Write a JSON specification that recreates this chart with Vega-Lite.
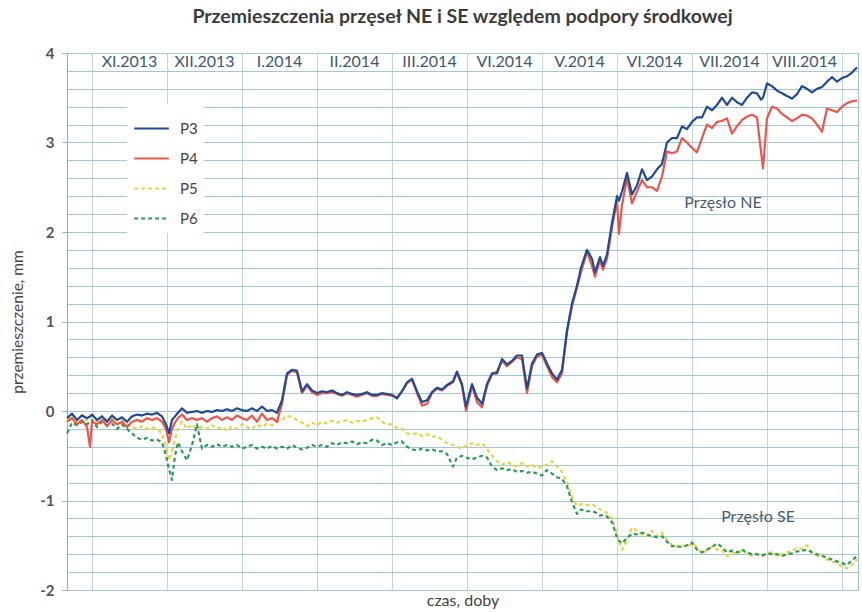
{
"$schema": "https://vega.github.io/schema/vega-lite/v6.json",
"width": 791, "height": 537,
"autosize": {"type": "none"},
"padding": {"left": 67, "top": 53, "right": 4, "bottom": 22},
"background": "white",
"title": {"text": "Przemieszczenia przęseł NE i SE  względem podpory środkowej", "fontSize": 19.5, "font": "Lato", "fontWeight": "bold", "color": "#3b3b3b", "anchor": "middle", "offset": 19},
"config": {"view": {"stroke": "#9dbfd4"}, "font": "Lato"},
"layer": [
{
"data": {"values": [
{"d":0,"P3":-0.08,"P4":-0.12,"P5":-0.1,"P6":-0.25},
{"d":2,"P3":-0.03,"P4":-0.08,"P5":-0.05,"P6":-0.13},
{"d":4,"P3":-0.1,"P4":-0.15,"P5":-0.12,"P6":-0.16},
{"d":6,"P3":-0.05,"P4":-0.1,"P5":-0.04,"P6":-0.12},
{"d":8,"P3":-0.08,"P4":-0.18,"P5":-0.1,"P6":-0.15},
{"d":9.2,"P3":-0.06,"P4":-0.4,"P5":-0.08,"P6":-0.12},
{"d":10,"P3":-0.04,"P4":-0.12,"P5":-0.06,"P6":-0.1},
{"d":12,"P3":-0.1,"P4":-0.15,"P5":-0.12,"P6":-0.18},
{"d":14,"P3":-0.06,"P4":-0.1,"P5":-0.05,"P6":-0.12},
{"d":16,"P3":-0.12,"P4":-0.17,"P5":-0.1,"P6":-0.16},
{"d":18,"P3":-0.05,"P4":-0.1,"P5":-0.08,"P6":-0.14},
{"d":20,"P3":-0.1,"P4":-0.15,"P5":-0.14,"P6":-0.2},
{"d":22,"P3":-0.07,"P4":-0.12,"P5":-0.1,"P6":-0.15},
{"d":24,"P3":-0.12,"P4":-0.18,"P5":-0.15,"P6":-0.2},
{"d":26,"P3":-0.06,"P4":-0.12,"P5":-0.18,"P6":-0.25},
{"d":28,"P3":-0.04,"P4":-0.1,"P5":-0.2,"P6":-0.3},
{"d":30,"P3":-0.05,"P4":-0.12,"P5":-0.17,"P6":-0.32},
{"d":32,"P3":-0.03,"P4":-0.08,"P5":-0.2,"P6":-0.3},
{"d":34,"P3":-0.04,"P4":-0.1,"P5":-0.18,"P6":-0.33},
{"d":36,"P3":-0.02,"P4":-0.08,"P5":-0.2,"P6":-0.32},
{"d":38,"P3":-0.06,"P4":-0.12,"P5":-0.25,"P6":-0.35},
{"d":39.6,"P3":-0.15,"P4":-0.2,"P5":-0.4,"P6":-0.5},
{"d":40.8,"P3":-0.25,"P4":-0.35,"P5":-0.55,"P6":-0.65},
{"d":42,"P3":-0.1,"P4":-0.2,"P5":-0.45,"P6":-0.77},
{"d":43.2,"P3":-0.06,"P4":-0.13,"P5":-0.32,"P6":-0.5},
{"d":44.4,"P3":-0.02,"P4":-0.08,"P5":-0.2,"P6":-0.35},
{"d":46,"P3":0.03,"P4":-0.04,"P5":-0.12,"P6":-0.45},
{"d":48,"P3":-0.02,"P4":-0.1,"P5":-0.2,"P6":-0.55},
{"d":50,"P3":-0.01,"P4":-0.08,"P5":-0.15,"P6":-0.38},
{"d":52,"P3":0.0,"P4":-0.1,"P5":-0.2,"P6":-0.15},
{"d":54,"P3":-0.02,"P4":-0.08,"P5":-0.18,"P6":-0.42},
{"d":56,"P3":0.0,"P4":-0.12,"P5":-0.2,"P6":-0.38},
{"d":58,"P3":-0.01,"P4":-0.08,"P5":-0.16,"P6":-0.4},
{"d":60,"P3":0.01,"P4":-0.06,"P5":-0.2,"P6":-0.37},
{"d":62,"P3":0.0,"P4":-0.1,"P5":-0.18,"P6":-0.4},
{"d":64,"P3":0.02,"P4":-0.07,"P5":-0.22,"P6":-0.38},
{"d":66,"P3":0.0,"P4":-0.1,"P5":-0.17,"P6":-0.4},
{"d":68,"P3":0.03,"P4":-0.05,"P5":-0.2,"P6":-0.38},
{"d":70,"P3":0.01,"P4":-0.08,"P5":-0.15,"P6":-0.42},
{"d":72,"P3":0.0,"P4":-0.1,"P5":-0.18,"P6":-0.4},
{"d":74,"P3":0.03,"P4":-0.05,"P5":-0.2,"P6":-0.38},
{"d":76,"P3":0.0,"P4":-0.12,"P5":-0.15,"P6":-0.42},
{"d":78,"P3":0.05,"P4":-0.03,"P5":-0.18,"P6":-0.4},
{"d":80,"P3":0.0,"P4":-0.1,"P5":-0.14,"P6":-0.42},
{"d":82,"P3":0.01,"P4":-0.08,"P5":-0.16,"P6":-0.39},
{"d":84,"P3":-0.02,"P4":-0.12,"P5":-0.12,"P6":-0.42},
{"d":86,"P3":0.12,"P4":0.08,"P5":-0.1,"P6":-0.4},
{"d":88,"P3":0.42,"P4":0.4,"P5":-0.05,"P6":-0.42},
{"d":90,"P3":0.46,"P4":0.45,"P5":-0.07,"P6":-0.38},
{"d":92,"P3":0.45,"P4":0.43,"P5":-0.1,"P6":-0.41},
{"d":94,"P3":0.22,"P4":0.2,"P5":-0.13,"P6":-0.43},
{"d":96,"P3":0.3,"P4":0.28,"P5":-0.17,"P6":-0.41},
{"d":98,"P3":0.23,"P4":0.21,"P5":-0.13,"P6":-0.38},
{"d":100,"P3":0.2,"P4":0.18,"P5":-0.16,"P6":-0.4},
{"d":102,"P3":0.22,"P4":0.2,"P5":-0.12,"P6":-0.38},
{"d":104,"P3":0.21,"P4":0.2,"P5":-0.14,"P6":-0.4},
{"d":106,"P3":0.23,"P4":0.21,"P5":-0.11,"P6":-0.36},
{"d":108,"P3":0.2,"P4":0.19,"P5":-0.13,"P6":-0.38},
{"d":110,"P3":0.18,"P4":0.17,"P5":-0.12,"P6":-0.35},
{"d":112,"P3":0.21,"P4":0.2,"P5":-0.1,"P6":-0.36},
{"d":114,"P3":0.19,"P4":0.18,"P5":-0.13,"P6":-0.34},
{"d":116,"P3":0.18,"P4":0.16,"P5":-0.11,"P6":-0.37},
{"d":118,"P3":0.19,"P4":0.18,"P5":-0.12,"P6":-0.35},
{"d":120,"P3":0.21,"P4":0.2,"P5":-0.1,"P6":-0.36},
{"d":122,"P3":0.18,"P4":0.17,"P5":-0.08,"P6":-0.32},
{"d":124,"P3":0.18,"P4":0.17,"P5":-0.07,"P6":-0.33},
{"d":126,"P3":0.2,"P4":0.19,"P5":-0.12,"P6":-0.38},
{"d":128,"P3":0.19,"P4":0.18,"P5":-0.15,"P6":-0.36},
{"d":130,"P3":0.18,"P4":0.17,"P5":-0.15,"P6":-0.38},
{"d":132,"P3":0.14,"P4":0.15,"P5":-0.19,"P6":-0.35},
{"d":134,"P3":0.22,"P4":0.22,"P5":-0.2,"P6":-0.34},
{"d":136,"P3":0.32,"P4":0.31,"P5":-0.25,"P6":-0.4},
{"d":138,"P3":0.36,"P4":0.35,"P5":-0.26,"P6":-0.43},
{"d":140,"P3":0.22,"P4":0.2,"P5":-0.25,"P6":-0.44},
{"d":142,"P3":0.1,"P4":0.06,"P5":-0.28,"P6":-0.42},
{"d":144,"P3":0.12,"P4":0.08,"P5":-0.26,"P6":-0.44},
{"d":146,"P3":0.21,"P4":0.2,"P5":-0.29,"P6":-0.43},
{"d":148,"P3":0.26,"P4":0.25,"P5":-0.28,"P6":-0.45},
{"d":150,"P3":0.24,"P4":0.23,"P5":-0.32,"P6":-0.45},
{"d":152,"P3":0.29,"P4":0.28,"P5":-0.36,"P6":-0.48},
{"d":154.4,"P3":0.33,"P4":0.32,"P5":-0.38,"P6":-0.62},
{"d":156,"P3":0.44,"P4":0.43,"P5":-0.4,"P6":-0.52},
{"d":158,"P3":0.3,"P4":0.28,"P5":-0.42,"P6":-0.5},
{"d":159.6,"P3":0.05,"P4":0.0,"P5":-0.39,"P6":-0.52},
{"d":162,"P3":0.3,"P4":0.28,"P5":-0.36,"P6":-0.54},
{"d":164,"P3":0.15,"P4":0.1,"P5":-0.38,"P6":-0.52},
{"d":166,"P3":0.08,"P4":0.04,"P5":-0.36,"P6":-0.5},
{"d":168,"P3":0.3,"P4":0.28,"P5":-0.42,"P6":-0.52},
{"d":170,"P3":0.42,"P4":0.41,"P5":-0.5,"P6":-0.62},
{"d":172,"P3":0.42,"P4":0.44,"P5":-0.56,"P6":-0.66},
{"d":174,"P3":0.58,"P4":0.56,"P5":-0.6,"P6":-0.64},
{"d":176,"P3":0.52,"P4":0.5,"P5":-0.57,"P6":-0.66},
{"d":178,"P3":0.56,"P4":0.55,"P5":-0.6,"P6":-0.65},
{"d":180,"P3":0.62,"P4":0.6,"P5":-0.62,"P6":-0.68},
{"d":182,"P3":0.62,"P4":0.58,"P5":-0.58,"P6":-0.67},
{"d":184,"P3":0.25,"P4":0.2,"P5":-0.62,"P6":-0.69},
{"d":186,"P3":0.53,"P4":0.5,"P5":-0.6,"P6":-0.68},
{"d":188,"P3":0.63,"P4":0.61,"P5":-0.64,"P6":-0.7},
{"d":190,"P3":0.65,"P4":0.63,"P5":-0.62,"P6":-0.72},
{"d":192,"P3":0.53,"P4":0.5,"P5":-0.6,"P6":-0.66},
{"d":194,"P3":0.42,"P4":0.38,"P5":-0.56,"P6":-0.7},
{"d":196,"P3":0.35,"P4":0.32,"P5":-0.62,"P6":-0.74},
{"d":198,"P3":0.46,"P4":0.42,"P5":-0.68,"P6":-0.76},
{"d":200,"P3":0.9,"P4":0.88,"P5":-0.8,"P6":-0.84},
{"d":202,"P3":1.2,"P4":1.17,"P5":-0.96,"P6":-1.02},
{"d":204,"P3":1.4,"P4":1.38,"P5":-1.06,"P6":-1.15},
{"d":205.6,"P3":1.6,"P4":1.55,"P5":-1.04,"P6":-1.1},
{"d":208,"P3":1.8,"P4":1.78,"P5":-1.05,"P6":-1.12},
{"d":210,"P3":1.7,"P4":1.62,"P5":-1.04,"P6":-1.12},
{"d":211.2,"P3":1.55,"P4":1.5,"P5":-1.06,"P6":-1.13},
{"d":213.2,"P3":1.72,"P4":1.68,"P5":-1.1,"P6":-1.17},
{"d":214.4,"P3":1.62,"P4":1.58,"P5":-1.11,"P6":-1.16},
{"d":216,"P3":1.75,"P4":1.7,"P5":-1.14,"P6":-1.18},
{"d":218,"P3":2.1,"P4":2.05,"P5":-1.2,"P6":-1.24},
{"d":220,"P3":2.4,"P4":2.35,"P5":-1.38,"P6":-1.42},
{"d":220.8,"P3":2.35,"P4":1.98,"P5":-1.45,"P6":-1.45},
{"d":222,"P3":2.45,"P4":2.3,"P5":-1.55,"P6":-1.48},
{"d":224,"P3":2.66,"P4":2.6,"P5":-1.45,"P6":-1.42},
{"d":226,"P3":2.42,"P4":2.32,"P5":-1.3,"P6":-1.37},
{"d":228,"P3":2.52,"P4":2.45,"P5":-1.34,"P6":-1.38},
{"d":230,"P3":2.7,"P4":2.58,"P5":-1.38,"P6":-1.36},
{"d":232,"P3":2.58,"P4":2.5,"P5":-1.4,"P6":-1.38},
{"d":234,"P3":2.62,"P4":2.5,"P5":-1.34,"P6":-1.4},
{"d":236,"P3":2.7,"P4":2.46,"P5":-1.4,"P6":-1.41},
{"d":238,"P3":2.76,"P4":2.62,"P5":-1.36,"P6":-1.4},
{"d":240,"P3":3.0,"P4":2.9,"P5":-1.44,"P6":-1.46},
{"d":242,"P3":3.05,"P4":2.88,"P5":-1.5,"P6":-1.51},
{"d":244,"P3":3.05,"P4":2.9,"P5":-1.52,"P6":-1.51},
{"d":246,"P3":3.18,"P4":3.05,"P5":-1.5,"P6":-1.52},
{"d":248,"P3":3.15,"P4":3.0,"P5":-1.52,"P6":-1.5},
{"d":250,"P3":3.23,"P4":2.94,"P5":-1.48,"P6":-1.47},
{"d":252,"P3":3.28,"P4":2.89,"P5":-1.52,"P6":-1.55},
{"d":254,"P3":3.28,"P4":3.05,"P5":-1.6,"P6":-1.58},
{"d":256,"P3":3.4,"P4":3.2,"P5":-1.55,"P6":-1.55},
{"d":258,"P3":3.36,"P4":3.16,"P5":-1.52,"P6":-1.52},
{"d":260,"P3":3.42,"P4":3.23,"P5":-1.55,"P6":-1.48},
{"d":262,"P3":3.5,"P4":3.24,"P5":-1.55,"P6":-1.52},
{"d":264,"P3":3.42,"P4":3.27,"P5":-1.62,"P6":-1.58},
{"d":266,"P3":3.5,"P4":3.1,"P5":-1.58,"P6":-1.56},
{"d":268,"P3":3.45,"P4":3.18,"P5":-1.6,"P6":-1.58},
{"d":270,"P3":3.42,"P4":3.25,"P5":-1.55,"P6":-1.55},
{"d":272,"P3":3.5,"P4":3.29,"P5":-1.6,"P6":-1.58},
{"d":274,"P3":3.56,"P4":3.31,"P5":-1.62,"P6":-1.6},
{"d":276,"P3":3.55,"P4":3.28,"P5":-1.6,"P6":-1.6},
{"d":277.6,"P3":3.48,"P4":2.9,"P5":-1.62,"P6":-1.61},
{"d":278.4,"P3":3.5,"P4":2.71,"P5":-1.62,"P6":-1.61},
{"d":280,"P3":3.66,"P4":3.27,"P5":-1.6,"P6":-1.59},
{"d":282,"P3":3.63,"P4":3.4,"P5":-1.57,"P6":-1.6},
{"d":284,"P3":3.58,"P4":3.38,"P5":-1.62,"P6":-1.6},
{"d":286,"P3":3.55,"P4":3.32,"P5":-1.6,"P6":-1.62},
{"d":288,"P3":3.52,"P4":3.28,"P5":-1.58,"P6":-1.6},
{"d":290,"P3":3.49,"P4":3.24,"P5":-1.56,"P6":-1.59},
{"d":292,"P3":3.54,"P4":3.27,"P5":-1.53,"P6":-1.57},
{"d":294,"P3":3.63,"P4":3.31,"P5":-1.54,"P6":-1.56},
{"d":296,"P3":3.6,"P4":3.3,"P5":-1.5,"P6":-1.55},
{"d":298,"P3":3.56,"P4":3.27,"P5":-1.58,"P6":-1.58},
{"d":300,"P3":3.6,"P4":3.2,"P5":-1.62,"P6":-1.6},
{"d":302,"P3":3.62,"P4":3.12,"P5":-1.6,"P6":-1.62},
{"d":304,"P3":3.68,"P4":3.38,"P5":-1.66,"P6":-1.64},
{"d":306,"P3":3.73,"P4":3.36,"P5":-1.68,"P6":-1.66},
{"d":308,"P3":3.68,"P4":3.34,"P5":-1.7,"P6":-1.68},
{"d":310,"P3":3.72,"P4":3.4,"P5":-1.74,"P6":-1.7},
{"d":312,"P3":3.74,"P4":3.44,"P5":-1.76,"P6":-1.72},
{"d":314,"P3":3.78,"P4":3.46,"P5":-1.72,"P6":-1.67},
{"d":316,"P3":3.84,"P4":3.47,"P5":-1.66,"P6":-1.62}
]},
"transform": [{"fold": ["P5", "P6", "P4", "P3"], "as": ["seria", "v"]}],
"mark": {"type": "line", "strokeJoin": "round", "strokeWidth": 2.2},
"encoding": {
"x": {"field": "d", "type": "quantitative", "scale": {"domain": [0, 316.4], "nice": false, "zero": false},
"axis": {"values": [10,40,70,100,130,160,190,220,250,280,310], "tickCount": 20, "labels": false, "ticks": false, "domain": false, "grid": true, "gridColor": "#bcd6e6", "gridWidth": 1, "title": "czas, doby", "titleFont": "Lato", "titleFontSize": 16, "titleFontWeight": "normal", "titleColor": "#444", "titlePadding": 2}},
"y": {"field": "v", "type": "quantitative", "scale": {"domain": [-2, 4], "nice": false, "zero": false},
"axis": {"values": [-2,-1.8,-1.6,-1.4,-1.2,-1,-0.8,-0.6,-0.4,-0.2,0,0.2,0.4,0.6,0.8,1,1.2,1.4,1.6,1.8,2,2.2,2.4,2.6,2.8,3,3.2,3.4,3.6,3.8,4],
"tickCount": 40, "labelOverlap": false,
"labelExpr": "datum.value % 1 === 0 ? '' + datum.value : ''",
"grid": true, "gridColor": "#a3c6db", "gridWidth": 1,
"ticks": true, "tickSize": 5, "tickColor": {"condition": {"test": "datum.value % 1 === 0", "value": "#8fb0c4"}, "value": "transparent"},
"domain": true, "domainColor": "#8fb0c4",
"labelFontSize": 15, "labelFontWeight": "bold", "labelColor": "#555", "labelPadding": 8,
"title": "przemieszczenie, mm", "titleFontSize": 15.5, "titleFontWeight": "normal", "titleColor": "#444", "titlePadding": 14}},
"color": {"field": "seria", "type": "nominal", "scale": {"domain": ["P3", "P4", "P5", "P6"], "range": ["#1f4a94", "#e8584a", "#e4d548", "#2f9a58"]},
"legend": {"title": null, "orient": "none", "legendX": 60, "legendY": 51, "symbolType": "stroke", "symbolSize": 1200, "symbolStrokeWidth": 2.2, "labelFontSize": 15, "labelColor": "#444", "labelFont": "Lato", "fillColor": "white", "padding": 6, "rowPadding": 3, "labelOffset": 10}},
"strokeDash": {"field": "seria", "type": "nominal", "scale": {"domain": ["P3", "P4", "P5", "P6"], "range": [[1, 0], [1, 0], [4, 3], [4, 3]]}}
}
},
{
"data": {"values": [
{"d": 25, "m": "XI.2013"}, {"d": 55, "m": "XII.2013"}, {"d": 85, "m": "I.2014"}, {"d": 115, "m": "II.2014"}, {"d": 145, "m": "III.2014"},
{"d": 175, "m": "VI.2014"}, {"d": 205, "m": "V.2014"}, {"d": 235, "m": "VI.2014"}, {"d": 265, "m": "VII.2014"}, {"d": 295, "m": "VIII.2014"}
]},
"mark": {"type": "text", "font": "Lato", "fontSize": 16, "color": "#3f5672", "baseline": "middle"},
"encoding": {"x": {"field": "d", "type": "quantitative"}, "y": {"datum": 3.9}, "text": {"field": "m"}}
},
{
"data": {"values": [{"d": 262.4, "v": 2.32, "t": "Przęsło NE"}, {"d": 276.4, "v": -1.18, "t": "Przęsło SE"}]},
"mark": {"type": "text", "font": "Lato", "fontSize": 16, "color": "#4a5a6e", "baseline": "middle"},
"encoding": {"x": {"field": "d", "type": "quantitative"}, "y": {"field": "v", "type": "quantitative"}, "text": {"field": "t"}}
}
]
}
